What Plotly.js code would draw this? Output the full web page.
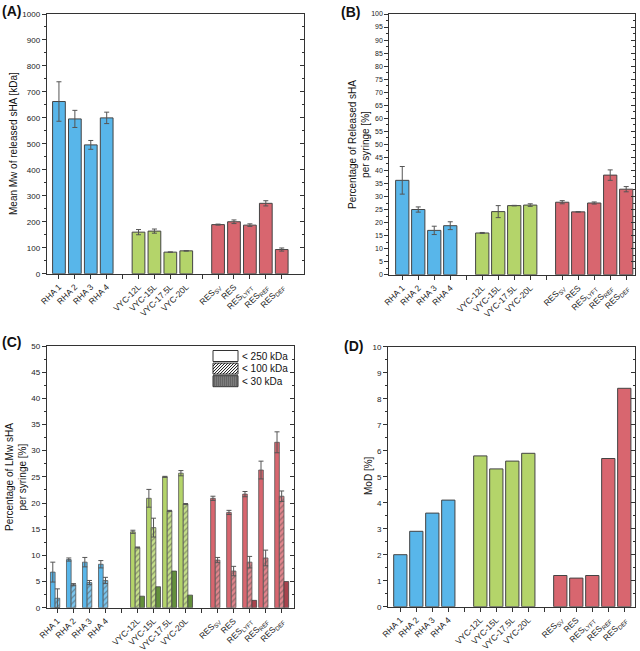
<!DOCTYPE html>
<html>
<head>
<meta charset="utf-8">
<script src="https://cdn.plot.ly/plotly-3.0.1.min.js"></script>
<style>
html,body{margin:0;padding:0;background:#fff;}
#chart{width:640px;height:651px;}
</style>
</head>
<body>
<div id="chart"></div>
<script>
// ---------- data ----------
const categories = ['RHA 1','RHA 2','RHA 3','RHA 4','VYC-12L','VYC-15L','VYC-17.5L','VYC-20L',
  'RES<sub>SV</sub>','RES','RES<sub>LYFT</sub>','RES<sub>REF</sub>','RES<sub>DEF</sub>'];
const groups = [0,0,0,0,1,1,1,1,2,2,2,2,2];

// (A) Mean Mw of released sHA [kDa]
const meanMw    = [663,596,496,600,160,164,83,88,189,200,187,271,93];
const meanMwErr = [76,33,17,22,10,8,1,1,2,7,5,10,6];

// (B) Percentage of released sHA per syringe [%]
const released    = [36.2,25.0,17.0,18.8,16.0,24.2,26.5,26.7,27.8,24.1,27.5,38.2,32.8];
const releasedErr = [5.3,1.0,1.6,1.5,0.2,2.3,0.1,0.5,0.6,0.1,0.4,2.0,1.0];

// (C) Percentage of LMw sHA per syringe [%]
const lmw250    = [6.8,9.2,8.7,8.3,14.5,20.9,25.0,25.7,20.9,18.2,21.7,26.3,31.6];
const lmw250Err = [1.9,0.3,0.9,0.7,0.3,1.7,0.1,0.5,0.4,0.4,0.5,1.7,2.0];
const lmw100    = [1.8,4.4,4.8,5.2,11.5,15.3,18.5,19.8,9.1,7.0,8.7,9.5,21.3];
const lmw100Err = [1.8,0.2,0.4,0.6,0.1,1.8,0.1,0.1,0.5,0.9,1.1,1.5,1.0];
const lmw30     = [null,null,null,null,2.2,4.0,7.0,2.4,null,null,1.4,null,5.0];
const legendNames = ['< 250 kDa','< 100 kDa','< 30 kDa'];

// (D) MoD [%]
const mod = [2.0,2.9,3.6,4.1,5.8,5.3,5.6,5.9,1.2,1.1,1.2,5.7,8.4];

// ---------- styling ----------
const baseColors  = ['#58b6ea','#b4d46a','#d8666f'];
const lightColors = ['#7cc6ef','#c6e08a','#e2868d'];
const hatchColors = ['#1d5f8c','#4f7326','#8c2b36'];
const darkColors  = ['#3f7ea6','#638f3c','#a8434d'];
const FONT = 'Liberation Sans, Arial, sans-serif';
const AX = '#333';

const pos = categories.map((c,i)=> i + 1 + groups[i]);
const nSlots = Math.max(...pos);
const tickvals = [], ticktext = [];
for (let s = 1; s <= nSlots; s++) {
  tickvals.push(s);
  const k = pos.indexOf(s);
  ticktext.push(k >= 0 ? categories[k] : '');
}
const colBase  = groups.map(g=>baseColors[g]);
const colLight = groups.map(g=>lightColors[g]);
const colHatch = groups.map(g=>hatchColors[g]);
const colDark  = groups.map(g=>darkColors[g]);

function errBar(arr){ return {type:'data', array:arr, visible:true, color:'#555', thickness:1, width:2.5}; }

const traces = [];
// A
traces.push({type:'bar', x:pos, y:meanMw, width:0.8, xaxis:'x', yaxis:'y',
  marker:{color:colBase, line:{color:'#444', width:1}}, error_y:errBar(meanMwErr), showlegend:false, hoverinfo:'skip'});
// B
traces.push({type:'bar', x:pos, y:released, width:0.83, xaxis:'x2', yaxis:'y2',
  marker:{color:colBase, line:{color:'#444', width:1}}, error_y:errBar(releasedErr), showlegend:false, hoverinfo:'skip'});
// C
const cw = 0.29;
traces.push({type:'bar', x:pos, y:lmw250, width:cw, offset:-1.5*cw, xaxis:'x3', yaxis:'y3', name:legendNames[0],
  marker:{color:colBase, line:{color:'#555', width:0.8}}, error_y:errBar(lmw250Err), showlegend:false, hoverinfo:'skip'});
traces.push({type:'bar', x:pos, y:lmw100, width:cw, offset:-0.5*cw, xaxis:'x3', yaxis:'y3', name:legendNames[1],
  marker:{color:colLight, line:{color:'#555', width:0.8},
    pattern:{shape:'/', fgcolor:colHatch, size:4, solidity:0.3, fillmode:'overlay'}},
  error_y:errBar(lmw100Err), showlegend:false, hoverinfo:'skip'});
traces.push({type:'bar', x:pos, y:lmw30, width:cw, offset:0.5*cw, xaxis:'x3', yaxis:'y3', name:legendNames[2],
  marker:{color:colDark, line:{color:'#444', width:0.8}}, showlegend:false, hoverinfo:'skip'});
// D
traces.push({type:'bar', x:pos, y:mod, width:0.83, xaxis:'x4', yaxis:'y4',
  marker:{color:colBase, line:{color:'#444', width:1}}, showlegend:false, hoverinfo:'skip'});
// empty traces so the right-side tick axes are drawn
for (let i=1;i<=4;i++){
  traces.push({type:'scatter', x:[], y:[], xaxis:'x'+(i===1?'':i), yaxis:'y'+(i+4), showlegend:false, hoverinfo:'skip'});
}

const W=640, H=651;
const px = v=>v/W, py = v=>1-v/H;

function xAxis(dom, range, anchor){
  return {domain:dom, range:range, anchor:anchor, tickmode:'array', tickvals:tickvals, ticktext:ticktext,
    tickangle:-45, ticks:'outside', ticklen:4, tickcolor:AX, showline:true, linecolor:AX, linewidth:1,
    mirror:true, showgrid:false, zeroline:false, automargin:false, fixedrange:true,
    tickfont:{family:FONT, size:8.5, color:'#222'}};
}
function yAxis(dom, range, anchor, dtick, fs){
  return {domain:dom, range:range, anchor:anchor, dtick:dtick, tick0:0, ticks:'outside', ticklen:4, tickcolor:AX,
    minor:{ticks:'outside', ticklen:2, dtick:dtick/2, tick0:0, tickcolor:AX, showgrid:false},
    showline:true, linecolor:AX, linewidth:1, mirror:true, showgrid:false, zeroline:false,
    automargin:false, fixedrange:true, tickfont:{family:FONT, size:fs, color:'#222'}};
}
function yRight(base, range, anchor, dtick){
  return {overlaying:base, side:'right', anchor:anchor, range:range, dtick:dtick, tick0:0,
    ticks:'inside', ticklen:4, tickcolor:AX, showticklabels:false, showline:false, showgrid:false, zeroline:false,
    minor:{ticks:'inside', ticklen:2, dtick:dtick/2, tick0:0, tickcolor:AX, showgrid:false},
    automargin:false, fixedrange:true};
}

const domA = {x:[px(46.7),px(304)], y:[py(273.7),py(14)]};
const domB = {x:[px(389.3),px(635)], y:[py(274.7),py(14)]};
const domC = {x:[px(46.7),px(294)], y:[py(607.7),py(346)]};
const domD = {x:[px(388),px(635)], y:[py(606.7),py(346.7)]};
const rA = [0,1000], rB=[0,100], rC=[0,50], rD=[0,10];

function ann(text, x, y, opts){
  return Object.assign({text:text, x:x, y:y, xref:'paper', yref:'paper', showarrow:false,
    xanchor:'center', yanchor:'middle', font:{family:FONT, size:10, color:'#111'}}, opts||{});
}

// ---------- legend key for panel C (drawn as shapes + text) ----------
const shapes = [], legAnn = [];
const keyX0 = 213, keyX1 = 238, keyTop = 350.5, keyH = 11, keyStep = 12.6;
legendNames.forEach((nm, i) => {
  const t = keyTop + i*keyStep, b = t + keyH;
  const fill = i === 2 ? '#7d7d7d' : '#ffffff';
  shapes.push({type:'rect', xref:'paper', yref:'paper', x0:px(keyX0), x1:px(keyX1), y0:py(b), y1:py(t),
    fillcolor:fill, line:{color:'#333', width:1}, layer:'above'});
  if (i === 1) {
    const w = keyX1-keyX0, h = keyH, step = 3;
    let d = '';
    for (let c = -h; c < w; c += step) {
      let xs = keyX0 + c, ys = b, xe = keyX0 + c + h, ye = t;
      if (xs < keyX0) { ys = b - (keyX0 - xs); xs = keyX0; }
      if (xe > keyX1) { ye = t + (xe - keyX1); xe = keyX1; }
      d += `M${px(xs)},${py(ys)}L${px(xe)},${py(ye)}`;
    }
    shapes.push({type:'path', xref:'paper', yref:'paper', path:d, line:{color:'#111', width:1}, layer:'above'});
  }
  if (i === 2) {
    let d = '';
    for (let xx = keyX0 + 1.5; xx < keyX1; xx += 2) d += `M${px(xx)},${py(b)}L${px(xx)},${py(t)}`;
    shapes.push({type:'path', xref:'paper', yref:'paper', path:d, line:{color:'#555', width:0.6}, layer:'above'});
  }
  legAnn.push({text:nm, x:px(240), y:py(t + keyH/2), xref:'paper', yref:'paper', showarrow:false,
    xanchor:'left', yanchor:'middle', font:{family:FONT, size:10, color:'#111'}});
});

const layout = {
  width:W, height:H, margin:{l:0,r:0,t:0,b:0}, paper_bgcolor:'#fff', plot_bgcolor:'#fff',
  barmode:'overlay', font:{family:FONT, color:'#222'}, showlegend:false,
  xaxis: xAxis(domA.x, [0.23,16.4], 'y'),
  yaxis: yAxis(domA.y, rA, 'x', 100, 8),
  xaxis2: xAxis(domB.x, [0.19,15.55], 'y2'),
  yaxis2: yAxis(domB.y, rB, 'x2', 5, 7),
  xaxis3: xAxis(domC.x, [0.33,15.77], 'y3'),
  yaxis3: yAxis(domC.y, rC, 'x3', 5, 8),
  xaxis4: xAxis(domD.x, [0.23,15.67], 'y4'),
  yaxis4: yAxis(domD.y, rD, 'x4', 1, 8),
  yaxis5: yRight('y', rA, 'x', 100),
  yaxis6: yRight('y2', rB, 'x2', 5),
  yaxis7: yRight('y3', rC, 'x3', 5),
  yaxis8: yRight('y4', rD, 'x4', 1),
  shapes: shapes,
  annotations:[
    ann('<b>(A)</b>', 0, py(1), {xanchor:'left', yanchor:'top', font:{family:FONT, size:14, color:'#111'}}),
    ann('<b>(B)</b>', px(339), py(2), {xanchor:'left', yanchor:'top', font:{family:FONT, size:14, color:'#111'}}),
    ann('<b>(C)</b>', 0, py(332), {xanchor:'left', yanchor:'top', font:{family:FONT, size:14, color:'#111'}}),
    ann('<b>(D)</b>', px(342), py(336), {xanchor:'left', yanchor:'top', font:{family:FONT, size:14, color:'#111'}}),
    ann('Mean Mw of released sHA [kDa]', px(13), py(144), {textangle:-90}),
    ann('Percentage of Released sHA<br>per syringe [%]', px(359), py(145), {textangle:-90}),
    ann('Percentage of LMw sHA<br>per syringe [%]', px(16), py(477), {textangle:-90}),
    ann('MoD [%]', px(368), py(476), {textangle:-90})
  ].concat(legAnn)
};

Plotly.newPlot('chart', traces, layout, {staticPlot:true, displayModeBar:false});
</script>
</body>
</html>
